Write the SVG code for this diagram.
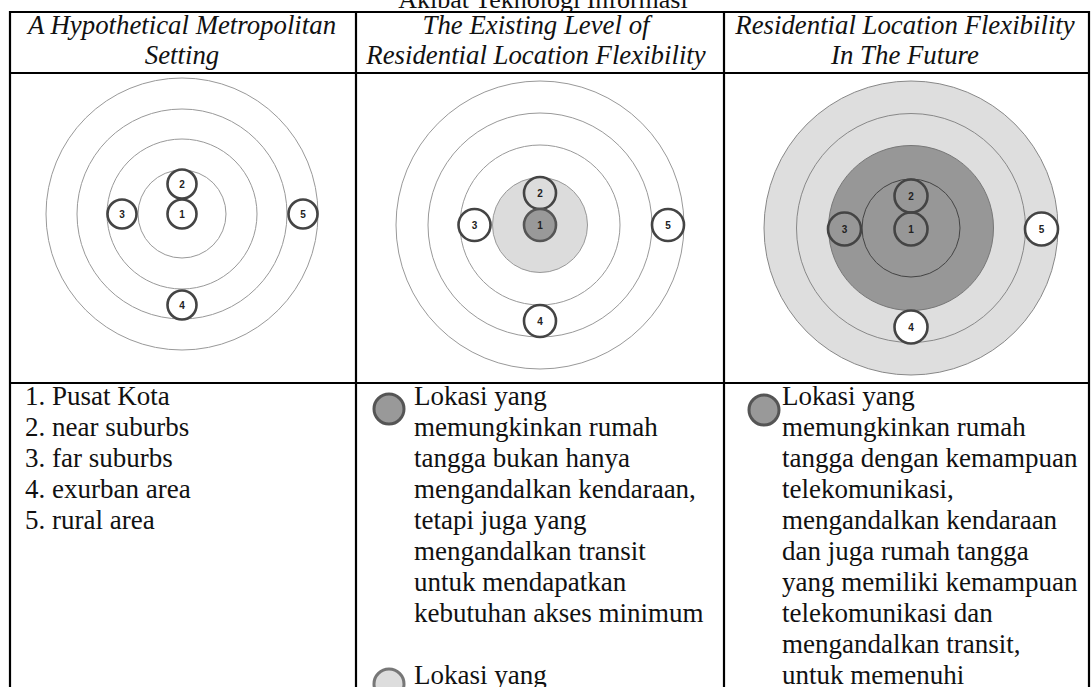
<svg xmlns="http://www.w3.org/2000/svg" width="1091" height="687" viewBox="0 0 1091 687">
<style>
.t{font-family:"Liberation Serif","Times New Roman",serif;font-size:27px;fill:#111}
.h{font-style:italic;text-anchor:middle;font-size:26.8px}
.grid{stroke:#000;stroke-width:2.2;fill:none}
.ring{stroke:#999;stroke-width:1}
.sc{stroke:#444;stroke-width:2.6}
.n{font-family:"Liberation Sans",Arial,sans-serif;font-size:10px;font-weight:bold;text-anchor:middle;fill:#222}
</style>
<rect width="1091" height="687" fill="#fff"/>
<text class="t" x="543" y="8" text-anchor="middle" style="font-size:26px">Akibat Teknologi Informasi</text>
<g id="table" class="grid">
<line x1="10" y1="12" x2="1090" y2="12"/>
<line x1="10" y1="73" x2="1090" y2="73"/>
<line x1="10" y1="383" x2="1090" y2="383"/>
<line x1="10" y1="11" x2="10" y2="687"/>
<line x1="356" y1="11" x2="356" y2="687"/>
<line x1="724" y1="11" x2="724" y2="687"/>
<line x1="1089" y1="11" x2="1089" y2="687"/>
</g>
<g id="headers">
<text class="t h" x="182" y="34">A Hypothetical Metropolitan</text>
<text class="t h" x="182" y="64">Setting</text>
<text class="t h" x="536" y="34">The Existing Level of</text>
<text class="t h" x="536" y="64">Residential Location Flexibility</text>
<text class="t h" x="905" y="34">Residential Location Flexibility</text>
<text class="t h" x="905" y="64">In The Future</text>
</g>
<g id="diagram1">
<circle class="ring" cx="182" cy="214" r="136" fill="none"/>
<circle class="ring" cx="182" cy="214" r="105" fill="none"/>
<circle class="ring" cx="182" cy="214" r="75" fill="none"/>
<circle class="ring" cx="182" cy="214" r="44" fill="none"/>
<circle class="sc" cx="182" cy="184" r="14.5" fill="#fff"/><text class="n" x="182" y="187.5">2</text>
<circle class="sc" cx="182" cy="214" r="14.5" fill="#fff"/><text class="n" x="182" y="217.5">1</text>
<circle class="sc" cx="122" cy="214" r="14.5" fill="#fff"/><text class="n" x="122" y="217.5">3</text>
<circle class="sc" cx="182" cy="305" r="14.5" fill="#fff"/><text class="n" x="182" y="308.5">4</text>
<circle class="sc" cx="303" cy="214" r="14.5" fill="#fff"/><text class="n" x="303" y="217.5">5</text>
</g>
<g id="diagram2">
<circle class="ring" cx="540" cy="225" r="144" fill="none"/>
<circle class="ring" cx="540" cy="225" r="112" fill="none"/>
<circle class="ring" cx="540" cy="225" r="80" fill="none"/>
<circle class="ring" cx="540" cy="225" r="47.5" fill="#dcdcdc"/>
<circle class="sc" cx="540" cy="193" r="16" fill="#dcdcdc"/><text class="n" x="540" y="196.5">2</text>
<circle class="sc" cx="540" cy="225" r="16" fill="#999" style="stroke:#555"/><text class="n" x="540" y="228.5">1</text>
<circle class="sc" cx="474.5" cy="225" r="16" fill="#fff"/><text class="n" x="474.5" y="228.5">3</text>
<circle class="sc" cx="540" cy="321" r="16" fill="#fff"/><text class="n" x="540" y="324.5">4</text>
<circle class="sc" cx="668" cy="225" r="16" fill="#fff"/><text class="n" x="668" y="228.5">5</text>
</g>
<g id="diagram3">
<circle class="ring" cx="911" cy="228" r="147" fill="#dedede" style="stroke:#888"/>
<circle class="ring" cx="911" cy="228" r="114.5" fill="none" style="stroke:#888"/>
<circle class="ring" cx="911" cy="228" r="82.5" fill="#979797" style="stroke:#777"/>
<circle class="ring" cx="911" cy="228" r="49" fill="none" style="stroke:#444"/>
<circle class="sc" cx="911" cy="196" r="16.5" fill="none"/><text class="n" x="911" y="199.5">2</text>
<circle class="sc" cx="911" cy="229" r="16.5" fill="none"/><text class="n" x="911" y="232.5">1</text>
<circle class="sc" cx="844.5" cy="229" r="16.5" fill="none"/><text class="n" x="844.5" y="232.5">3</text>
<circle class="sc" cx="911" cy="327" r="16.5" fill="#fff"/><text class="n" x="911" y="330.5">4</text>
<circle class="sc" cx="1041.5" cy="229" r="16.5" fill="#fff"/><text class="n" x="1041.5" y="232.5">5</text>
</g>
<g id="legend1">
<text class="t" x="25" y="405">1. Pusat Kota</text>
<text class="t" x="25" y="436">2. near suburbs</text>
<text class="t" x="25" y="467">3. far suburbs</text>
<text class="t" x="25" y="498">4. exurban area</text>
<text class="t" x="25" y="529">5. rural area</text>
</g>
<g id="legend2">
<circle cx="389" cy="409" r="15" fill="#999" stroke="#555" stroke-width="3"/>
<circle cx="389" cy="684" r="15" fill="#ddd" stroke="#777" stroke-width="3"/>
<text class="t" x="414" y="405">Lokasi yang</text>
<text class="t" x="414" y="436">memungkinkan rumah</text>
<text class="t" x="414" y="467">tangga bukan hanya</text>
<text class="t" x="414" y="498">mengandalkan kendaraan,</text>
<text class="t" x="414" y="529">tetapi juga yang</text>
<text class="t" x="414" y="560">mengandalkan transit</text>
<text class="t" x="414" y="591">untuk mendapatkan</text>
<text class="t" x="414" y="622">kebutuhan akses minimum</text>
<text class="t" x="414" y="684">Lokasi yang</text>
</g>
<g id="legend3">
<circle cx="764" cy="410" r="15" fill="#999" stroke="#555" stroke-width="3"/>
<text class="t" x="782" y="405">Lokasi yang</text>
<text class="t" x="782" y="436">memungkinkan rumah</text>
<text class="t" x="782" y="467">tangga dengan kemampuan</text>
<text class="t" x="782" y="498">telekomunikasi,</text>
<text class="t" x="782" y="529">mengandalkan kendaraan</text>
<text class="t" x="782" y="560">dan juga rumah tangga</text>
<text class="t" x="782" y="591">yang memiliki kemampuan</text>
<text class="t" x="782" y="622">telekomunikasi dan</text>
<text class="t" x="782" y="653">mengandalkan transit,</text>
<text class="t" x="782" y="684">untuk memenuhi</text>
</g>
</svg>
